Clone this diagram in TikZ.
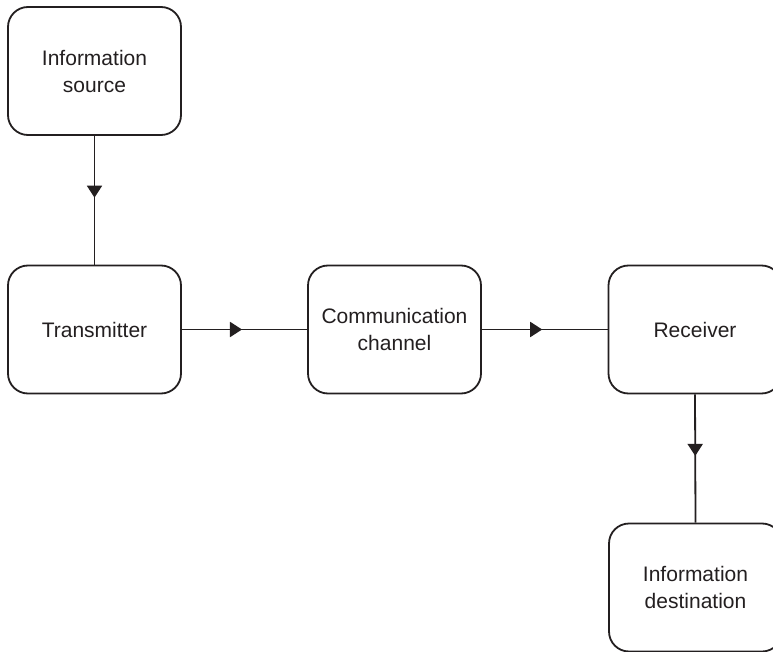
\documentclass[tikz,border=0pt]{standalone}
\usepackage{fontspec}
\setmainfont{Liberation Sans}
\usetikzlibrary{arrows.meta,decorations.markings}
\definecolor{ink}{HTML}{231F20}
\begin{document}
\begin{tikzpicture}[x=1pt,y=-1pt,
  blockbox/.style={draw=ink,line width=1.8pt,rounded corners=20pt,minimum width=173pt,minimum height=128pt,
    align=center,text=ink,font=\fontsize{21}{27}\selectfont,inner sep=0pt},
  flow/.style={draw=ink,line width=1.8pt,postaction={decorate},
    decoration={markings,mark=at position 0.48 with {\arrow{Triangle[length=12pt,width=15pt]}}}}]
\clip (0,0) rectangle (773,652);
\fill[white] (0,0) rectangle (773,652);
\node[blockbox] (src) at (94.5,71) {Information\\source};
\node[blockbox] (tx) at (94.5,329.5) {Transmitter};
\node[blockbox] (ch) at (394.5,329.5) {Communication\\channel};
\node[blockbox] (rx) at (695,329.5) {Receiver};
\node[blockbox] (dst) at (695.5,587.5) {Information\\destination};
\draw[flow] (src.south) -- (tx.north);
\draw[flow] (tx.east) -- (ch.west);
\draw[flow] (ch.east) -- (rx.west);
\draw[flow] (rx.south) -- (dst.north);
\end{tikzpicture}
\end{document}
